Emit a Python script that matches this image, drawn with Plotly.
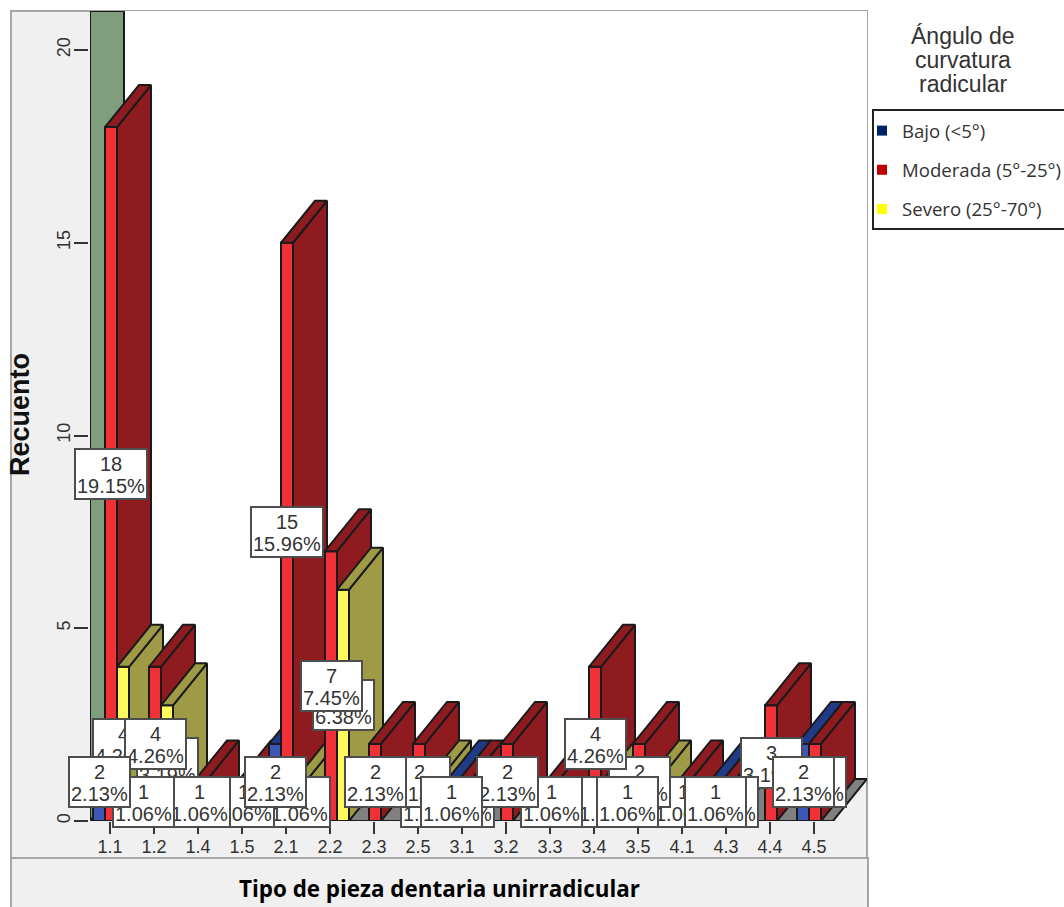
import plotly.graph_objects as go

categories = ["1.1","1.2","1.4","1.5","2.1","2.2","2.3","2.5","3.1","3.2","3.3","3.4","3.5","4.1","4.3","4.4","4.5"]
bajo     = [2,1,0,0,2,0,0,0,1,0,0,0,1,0,1,0,2]
moderada = [18,4,1,1,15,7,2,2,1,2,1,4,2,1,1,3,2]
severo   = [4,3,0,0,1,6,0,1,0,0,0,1,1,0,0,0,0]
series_names = ["Bajo (<5°)","Moderada (5°-25°)","Severo (25°-70°)"]
total = 94

W, H = 1064, 907
L, R, T, B = 90, 867, 11, 821
PX_X = 44.0
PX_Y = 38.55
x_lo = (L-110)/PX_X
x_hi = (R-110)/PX_X
y_hi = (B-T)/PX_Y
BAR_W = 12/PX_X
DX = 34/PX_X
DY = 42/PX_Y
SLOT = [-11/PX_X, 1/PX_X, 13/PX_X]
FRONT = ["#3B56B4","#F23038","#FFF95E"]
SIDE  = ["#1F3A86","#8E1B20","#9E9A45"]
INK = "#1a1a1a"
TXT = "#333333"
ARIAL = "Liberation Sans"
LW = 2

def px(p): return (p-L)/(R-L)
def py(p): return (B-p)/(B-T)

fig = go.Figure()
series = [bajo, moderada, severo]
z = 1
for i in range(len(categories)):
    for s, vals in enumerate(series):
        v = vals[i]
        if v == 0:
            continue
        x0 = i + SLOT[s] - BAR_W/2
        x1 = x0 + BAR_W
        fig.add_trace(go.Bar(x=[i], y=[v], width=[BAR_W], offset=[SLOT[s]-BAR_W/2],
                             marker=dict(color=FRONT[s], line=dict(color=INK, width=LW)),
                             showlegend=False, hoverinfo="skip", zorder=z))
        fig.add_trace(go.Scatter(x=[x1,x1,x1+DX,x1+DX,x1], y=[0,v,v+DY,DY,0], mode="lines", fill="toself",
                                 fillcolor=SIDE[s], line=dict(color=INK, width=LW),
                                 showlegend=False, hoverinfo="skip", zorder=z))
        fig.add_trace(go.Scatter(x=[x0,x1,x1+DX,x0+DX,x0], y=[v,v,v+DY,v+DY,v], mode="lines", fill="toself",
                                 fillcolor=SIDE[s], line=dict(color=INK, width=LW),
                                 showlegend=False, hoverinfo="skip", zorder=z))
        z += 1

LEG = ["#00206A","#C00000","#FFFF00"]
for s, name in enumerate(series_names):
    fig.add_trace(go.Scatter(x=[None], y=[None], mode="markers", name=name, legendgroup=name,
                             marker=dict(symbol="square", size=10, color=LEG[s]), hoverinfo="skip"))

shapes = [
    dict(type="rect", xref="paper", yref="paper", x0=px(11), x1=px(867), y0=py(858), y1=py(11),
         fillcolor="#F0F0F0", line=dict(color="#A6A6A6", width=2), layer="below"),
    dict(type="rect", xref="paper", yref="paper", x0=px(11), x1=px(868), y0=py(920), y1=py(858),
         fillcolor="#F0F0F0", line=dict(color="#A6A6A6", width=2), layer="below"),
    dict(type="rect", xref="x", yref="y", x0=x_lo+DX, x1=x_hi, y0=DY, y1=y_hi,
         fillcolor="white", line=dict(width=0), layer="below"),
    dict(type="path", xref="x", yref="y", layer="below", fillcolor="#7E9E7E", line=dict(color=INK, width=LW),
         path=f"M{x_lo},0 L{x_lo+DX},{DY} L{x_lo+DX},{y_hi} L{x_lo},{y_hi} Z"),
    dict(type="path", xref="x", yref="y", layer="below", fillcolor="#808080", line=dict(color=INK, width=LW),
         path=f"M{x_lo},0 L{x_hi-DX},0 L{x_hi},{DY} L{x_lo+DX},{DY} Z"),
    dict(type="rect", xref="paper", yref="paper", x0=px(873), x1=px(1080), y0=py(229), y1=py(110),
         fillcolor="rgba(0,0,0,0)", line=dict(color="#222222", width=2), layer="above"),
]

# label stacking, bottom to top
label_pairs = []
for s in (2, 1, 0):
    for i in range(len(categories)-1, -1, -1):
        if series[s][i] > 0:
            label_pairs.append((s, i))
a, b = label_pairs.index((1, 9)), label_pairs.index((1, 8))
label_pairs[a], label_pairs[b] = label_pairs[b], label_pairs[a]

ann = []
for s, i in label_pairs:
    v = series[s][i]
    pct = f"{v/total*100:.2f}%"
    xc = i + SLOT[s]
    ann.append(dict(x=xc, y=v/2, xref="x", yref="y", text=pct, showarrow=False, height=46, valign="bottom",
                    xanchor="center", yanchor="middle",
                    bgcolor="white", bordercolor="#4d4d4d", borderwidth=2, borderpad=1,
                    font=dict(family=ARIAL, size=20, color=TXT)))
    ann.append(dict(x=xc, y=v/2, xref="x", yref="y", text=str(v), showarrow=False, yshift=10,
                    xanchor="center", yanchor="middle",
                    font=dict(family=ARIAL, size=20, color=TXT)))

for txt, yy in zip(["Ángulo de","curvatura","radicular"], [36,60,84]):
    ann.append(dict(x=px(963), y=py(yy), xref="paper", yref="paper", text=txt, showarrow=False,
                    xanchor="center", yanchor="middle",
                    font=dict(family=ARIAL, size=23, color=TXT)))
ann.append(dict(x=px(20), y=py(415), xref="paper", yref="paper", text="Recuento", textangle=-90, showarrow=False,
                xanchor="center", yanchor="middle",
                font=dict(family=ARIAL, size=27, color="#111111", weight="bold")))
ann.append(dict(x=px(439), y=py(888), xref="paper", yref="paper", text="Tipo de pieza dentaria unirradicular",
                showarrow=False, xanchor="center", yanchor="middle",
                font=dict(family="Open Sans", size=22.4, color="#000000", weight="bold")))

fig.update_layout(
    width=W, height=H, margin=dict(l=L, r=W-R, t=T, b=H-B, autoexpand=False),
    paper_bgcolor="white", plot_bgcolor="rgba(0,0,0,0)",
    barmode="overlay", shapes=shapes, annotations=ann,
    xaxis=dict(range=[x_lo, x_hi], tickmode="array", tickvals=list(range(len(categories))), ticktext=categories,
               ticks="outside", ticklen=12, tickwidth=2, tickcolor="#333333", showgrid=False, zeroline=False,
               showline=False, ticklabelstandoff=-3, tickfont=dict(family=ARIAL, size=18, color=TXT), fixedrange=True),
    yaxis=dict(range=[0, y_hi], tickmode="array", tickvals=[0,5,10,15,20], tickangle=-90,
               ticks="outside", ticklen=14, tickwidth=2, tickcolor="#333333", showgrid=False, zeroline=False,
               showline=True, linecolor=INK, linewidth=2, ticklabelstandoff=-3,
               tickfont=dict(family=ARIAL, size=18, color=TXT), fixedrange=True),
    legend=dict(x=px(862), y=py(112), xanchor="left", yanchor="top", bgcolor="rgba(0,0,0,0)", borderwidth=0,
                tracegroupgap=12, font=dict(family="Open Sans", size=18.6, color=TXT)),
    showlegend=True,
)
fig.write_html("out.html", config={"displayModeBar": False},
               post_script="document.body.style.margin='0';document.documentElement.style.overflow='hidden';")
